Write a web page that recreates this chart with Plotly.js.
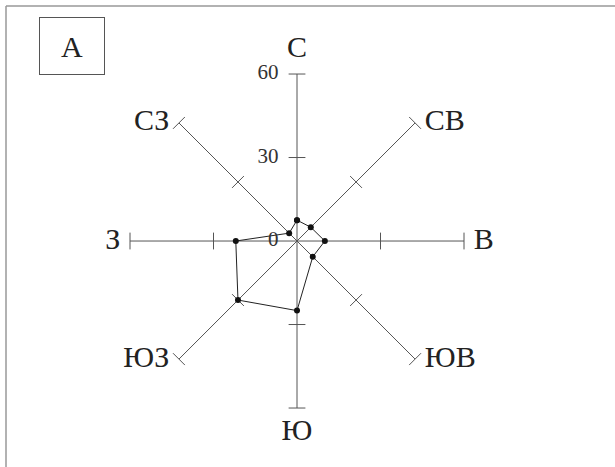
<!DOCTYPE html>
<html>
<head>
<meta charset="utf-8">
<script src="https://cdn.plot.ly/plotly-3.0.1.min.js"></script>
<style>
  html, body { margin: 0; padding: 0; background: #fff; }
  #rose { width: 615px; height: 467px; }
</style>
</head>
<body>
<div id="rose"></div>
<script>
// wind directions (clockwise from north) and repeat of wind, %
const directions = ["С", "СВ", "В", "ЮВ", "Ю", "ЮЗ", "З", "СЗ"];
const windValues = [7.5, 7, 10, 8, 25, 30, 22, 4];
const scaleTicks = [0, 30, 60];
const spokeTicks = [30, 60];
const panelLabel = "А";

document.addEventListener("DOMContentLoaded", () => {
    const axisColor = "#555";
    const serif = "Liberation Serif, DejaVu Serif, serif";
    const rMax = scaleTicks[scaleTicks.length - 1];

    // spokes from the centre to the end of the scale
    const spokeR = [], spokeTheta = [];
    directions.forEach(d => {
        spokeR.push(0, rMax, null);
        spokeTheta.push(d, d, null);
    });

    // small cross marks on every spoke
    const tickR = [], tickTheta = [], tickAngle = [];
    directions.forEach((d, i) => {
        spokeTicks.forEach(v => {
            tickR.push(v);
            tickTheta.push(d);
            tickAngle.push(i * 45);
        });
    });

    // where each direction name sits next to the end of its spoke
    const labelPos = ["top center", "middle right", "middle right", "middle right",
                      "bottom center", "middle left", "middle left", "middle left"];

    const traces = [
        {
            type: "scatterpolar",
            r: spokeR,
            theta: spokeTheta,
            mode: "lines",
            line: {color: axisColor, width: 1},
            connectgaps: false,
            hoverinfo: "skip",
        },
        {
            type: "scatterpolar",
            r: tickR,
            theta: tickTheta,
            mode: "markers",
            marker: {symbol: "line-ew", size: 12, angle: tickAngle, line: {color: axisColor, width: 1}},
            hoverinfo: "skip",
        },
        {
            type: "scatterpolar",
            r: windValues.concat(windValues[0]),
            theta: directions.concat(directions[0]),
            mode: "lines+markers",
            line: {color: "#222", width: 1},
            marker: {color: "#111", size: 6},
        },
        // direction names
        {
            type: "scatterpolar",
            r: directions.map(() => rMax),
            theta: directions,
            mode: "markers+text",
            text: directions,
            textposition: labelPos,
            textfont: {size: 30, family: serif, color: "#222"},
            marker: {size: 14, color: "rgba(0,0,0,0)"},
            cliponaxis: false,
            hoverinfo: "skip",
        },
        // scale numbers along the north spoke
        {
            type: "scatterpolar",
            r: scaleTicks,
            theta: scaleTicks.map(() => directions[0]),
            mode: "markers+text",
            text: scaleTicks.map(String),
            textposition: "middle left",
            textfont: {size: 21, family: serif, color: "#333"},
            marker: {size: 28, color: "rgba(0,0,0,0)"},
            cliponaxis: false,
            hoverinfo: "skip",
        },
    ];

    const layout = {
        width: 615,
        height: 467,
        margin: {l: 0, r: 0, t: 0, b: 0},
        paper_bgcolor: "#fff",
        showlegend: false,
        font: {family: serif, color: "#222"},
        polar: {
            domain: {x: [0.2114, 0.7545], y: [0.1263, 0.8415]},
            bgcolor: "rgba(0,0,0,0)",
            angularaxis: {
                type: "category",
                categoryarray: directions,
                rotation: 90,
                direction: "clockwise",
                showline: false,
                showgrid: false,
                showticklabels: false,
                ticks: "",
            },
            radialaxis: {
                range: [0, rMax],
                showline: false,
                showgrid: false,
                showticklabels: false,
                ticks: "",
            },
        },
        shapes: [
            {type: "line", xref: "paper", yref: "paper", x0: 6 / 615, x1: 1, y0: 1 - 6 / 467, y1: 1 - 6 / 467, line: {color: "#999", width: 1.5}},
            {type: "line", xref: "paper", yref: "paper", x0: 6 / 615, x1: 6 / 615, y0: 0, y1: 1 - 6 / 467, line: {color: "#999", width: 1.5}},
        ],
        annotations: [
            {
                text: panelLabel,
                xref: "paper", yref: "paper",
                x: 72 / 615, y: 1 - 46.5 / 467,
                xanchor: "center", yanchor: "middle",
                showarrow: false,
                font: {size: 30, family: serif, color: "#222"},
                bordercolor: "#555",
                borderwidth: 1,
                borderpad: 12,
                width: 40,
                height: 32,
            },
        ],
    };

    Plotly.newPlot("rose", traces, layout, {displayModeBar: false, staticPlot: true});
});
</script>
</body>
</html>
